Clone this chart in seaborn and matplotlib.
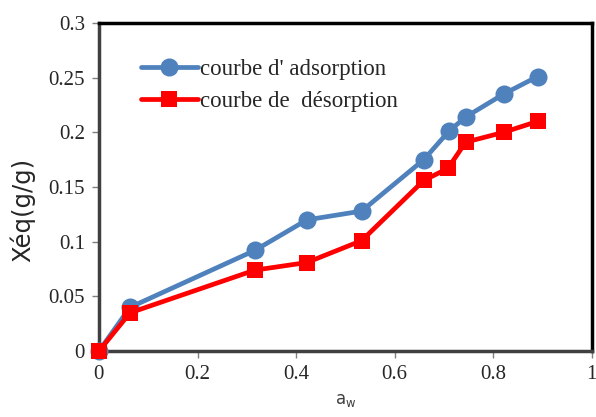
import matplotlib
matplotlib.use("Agg")
import matplotlib.pyplot as plt
import seaborn as sns
import pandas as pd

aw_ads = [0.0, 0.063, 0.316, 0.422, 0.533, 0.659, 0.710, 0.744, 0.821, 0.890]
x_ads = [0.0, 0.040, 0.092, 0.120, 0.128, 0.175, 0.201, 0.214, 0.235, 0.251]
aw_des = [0.0, 0.063, 0.316, 0.422, 0.533, 0.659, 0.708, 0.744, 0.821, 0.890]
x_des = [0.0, 0.035, 0.074, 0.081, 0.101, 0.156, 0.167, 0.191, 0.200, 0.210]
labels = ["courbe d' adsorption", "courbe de  désorption"]
xticks = [0, 0.2, 0.4, 0.6, 0.8, 1]
yticks = [0, 0.05, 0.1, 0.15, 0.2, 0.25, 0.3]

sns.set_style("white")
plt.rcParams['font.family'] = ['Liberation Serif', 'DejaVu Serif']

fig = plt.figure(figsize=(5.96, 4.17), dpi=100)
ax = fig.add_axes([0.166, 0.158, 0.827, 0.787])

df_a = pd.DataFrame({"aw": aw_ads, "x": x_ads})
df_d = pd.DataFrame({"aw": aw_des, "x": x_des})
sns.lineplot(data=df_a, x="aw", y="x", ax=ax, color="#4f81bd", lw=3.4,
             marker="o", markersize=13, markeredgewidth=0, label=labels[0],
             clip_on=False, zorder=3)
sns.lineplot(data=df_d, x="aw", y="x", ax=ax, color="#ff0000", lw=3.4,
             marker="s", markersize=12, markeredgewidth=0, label=labels[1],
             clip_on=False, zorder=4)

ax.set_xlim(0, 1)
ax.set_ylim(0, 0.3)
ax.set_xticks(xticks)
ax.set_xticklabels([f"{t:g}" for t in xticks])
ax.set_yticks(yticks)
ax.set_yticklabels([f"{t:g}" for t in yticks])
ax.tick_params(axis='both', which='major', labelsize=15, direction='out',
               length=5, width=1, color='#808080', bottom=True, left=True, pad=5)

for s in ['left', 'bottom']:
    ax.spines[s].set_color('#404040')
    ax.spines[s].set_linewidth(2.5)
for s in ['top', 'right']:
    ax.spines[s].set_color('black')
    ax.spines[s].set_linewidth(2.5)

ax.set_ylabel("Xéq(g/g)", fontsize=17.5, family=['DejaVu Sans'])
ax.yaxis.set_label_coords(-0.130, 0.43)
ax.set_xlabel(r"a$_\mathregular{w}$", fontsize=12, family=['DejaVu Sans'], color='#404040', labelpad=5)

leg = ax.legend(loc='upper left', bbox_to_anchor=(0.043, 0.952), frameon=False,
                fontsize=16.5, handlelength=2.5, handletextpad=0.1, labelspacing=0.48)

fig.savefig("out.png", dpi=100)
